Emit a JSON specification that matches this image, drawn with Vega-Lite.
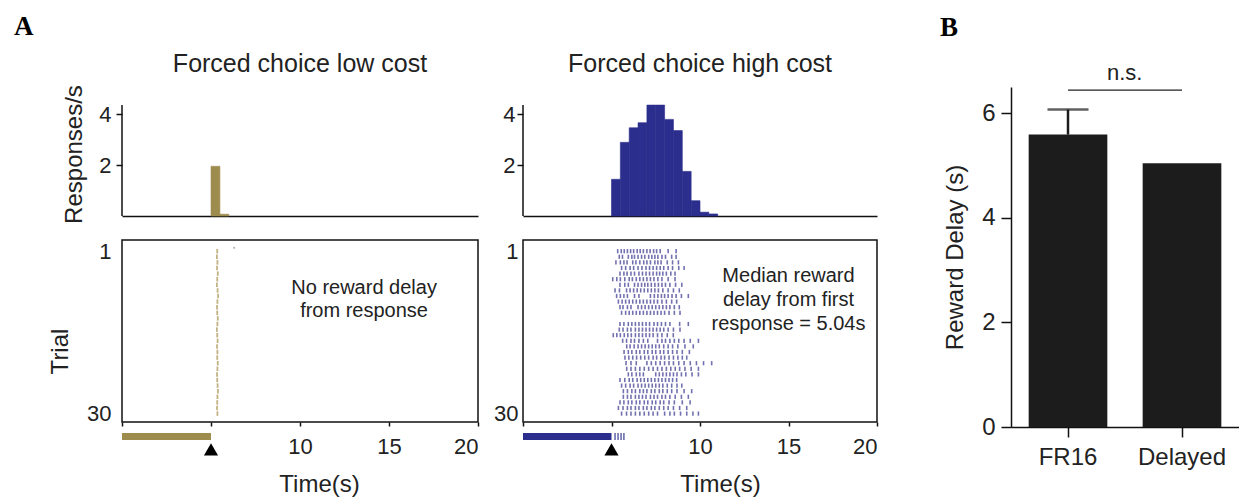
{
  "$schema": "https://vega.github.io/schema/vega-lite/v6.json",
  "padding": {"left": 14, "top": 12, "right": 0, "bottom": 0},
  "spacing": 61,
  "config": {
    "font": "Liberation Sans",
    "view": {"stroke": null},
    "axis": {"grid": false, "domainColor": "#111", "domainWidth": 1.5, "tickColor": "#111", "tickWidth": 1.5, "labelColor": "#222", "titleColor": "#222", "labelFontSize": 22, "titleFontSize": 24, "titleFontWeight": "normal", "labelFont": "Liberation Sans", "titleFont": "Liberation Sans"},
    "title": {"fontWeight": "normal", "color": "#222", "fontSize": 25}
  },
  "datasets": {
    "one": [{}],
    "histLow": [
      {"t0": 5.0, "t1": 5.5, "rate": 1.95},
      {"t0": 5.5, "t1": 6.0, "rate": 0.07}
    ],
    "histHigh": [
      {"t0": 5.0, "t1": 5.5, "rate": 1.44},
      {"t0": 5.5, "t1": 6.0, "rate": 2.89},
      {"t0": 6.0, "t1": 6.5, "rate": 3.46},
      {"t0": 6.5, "t1": 7.0, "rate": 3.66},
      {"t0": 7.0, "t1": 7.5, "rate": 4.35},
      {"t0": 7.5, "t1": 8.0, "rate": 4.35},
      {"t0": 8.0, "t1": 8.5, "rate": 3.79},
      {"t0": 8.5, "t1": 9.0, "rate": 3.35},
      {"t0": 9.0, "t1": 9.5, "rate": 1.75},
      {"t0": 9.5, "t1": 10.0, "rate": 0.6},
      {"t0": 10.0, "t1": 10.5, "rate": 0.15},
      {"t0": 10.5, "t1": 11.0, "rate": 0.08}
    ],
    "rasterLow": [
      {"r": 1, "t": 5.35}, {"r": 2, "t": 5.33}, {"r": 3, "t": 5.36}, {"r": 4, "t": 5.34}, {"r": 5, "t": 5.38},
      {"r": 6, "t": 5.35}, {"r": 7, "t": 5.33}, {"r": 8, "t": 5.37}, {"r": 9, "t": 5.4}, {"r": 10, "t": 5.36},
      {"r": 11, "t": 5.34}, {"r": 12, "t": 5.35}, {"r": 13, "t": 5.38}, {"r": 14, "t": 5.36}, {"r": 15, "t": 5.33},
      {"r": 16, "t": 5.35}, {"r": 17, "t": 5.37}, {"r": 18, "t": 5.34}, {"r": 19, "t": 5.36}, {"r": 20, "t": 5.35},
      {"r": 21, "t": 5.38}, {"r": 22, "t": 5.36}, {"r": 23, "t": 5.34}, {"r": 24, "t": 5.35}, {"r": 25, "t": 5.37},
      {"r": 26, "t": 5.39}, {"r": 27, "t": 5.36}, {"r": 28, "t": 5.35}, {"r": 29, "t": 5.34}, {"r": 30, "t": 5.36}
    ],
    "rasterHigh": [
      {"r":1,"t":5.35},{"r":1,"t":5.55},{"r":1,"t":5.72},{"r":1,"t":5.9},{"r":1,"t":6.08},{"r":1,"t":6.25},{"r":1,"t":6.45},{"r":1,"t":6.62},{"r":1,"t":6.8},{"r":1,"t":7.0},{"r":1,"t":7.18},{"r":1,"t":7.38},{"r":1,"t":7.55},{"r":1,"t":7.75},{"r":1,"t":8.2},{"r":1,"t":8.65},
      {"r":2,"t":5.44},{"r":2,"t":5.62},{"r":2,"t":5.95},{"r":2,"t":6.15},{"r":2,"t":6.3},{"r":2,"t":6.5},{"r":2,"t":6.7},{"r":2,"t":6.88},{"r":2,"t":7.1},{"r":2,"t":7.28},{"r":2,"t":7.45},{"r":2,"t":7.62},{"r":2,"t":7.85},{"r":2,"t":8.05},{"r":2,"t":8.4},{"r":2,"t":8.65},
      {"r":3,"t":5.25},{"r":3,"t":5.5},{"r":3,"t":5.7},{"r":3,"t":5.88},{"r":3,"t":6.2},{"r":3,"t":6.38},{"r":3,"t":6.6},{"r":3,"t":6.82},{"r":3,"t":7.0},{"r":3,"t":7.2},{"r":3,"t":7.45},{"r":3,"t":7.62},{"r":3,"t":7.8},{"r":3,"t":8.15},{"r":3,"t":8.45},{"r":3,"t":8.78},
      {"r":4,"t":5.57},{"r":4,"t":5.8},{"r":4,"t":6.05},{"r":4,"t":6.25},{"r":4,"t":6.5},{"r":4,"t":6.72},{"r":4,"t":6.95},{"r":4,"t":7.15},{"r":4,"t":7.35},{"r":4,"t":7.55},{"r":4,"t":7.75},{"r":4,"t":7.95},{"r":4,"t":8.2},{"r":4,"t":8.45},{"r":4,"t":8.8},{"r":4,"t":9.1},
      {"r":5,"t":5.48},{"r":5,"t":5.7},{"r":5,"t":5.88},{"r":5,"t":6.1},{"r":5,"t":6.3},{"r":5,"t":6.55},{"r":5,"t":6.75},{"r":5,"t":6.95},{"r":5,"t":7.15},{"r":5,"t":7.35},{"r":5,"t":7.55},{"r":5,"t":7.72},{"r":5,"t":7.9},{"r":5,"t":8.1},{"r":5,"t":8.35},{"r":5,"t":8.59},
      {"r":6,"t":5.07},{"r":6,"t":5.3},{"r":6,"t":5.5},{"r":6,"t":5.75},{"r":6,"t":6.0},{"r":6,"t":6.18},{"r":6,"t":6.4},{"r":6,"t":6.6},{"r":6,"t":6.8},{"r":6,"t":7.0},{"r":6,"t":7.2},{"r":6,"t":7.4},{"r":6,"t":7.62},{"r":6,"t":7.85},{"r":6,"t":8.2},{"r":6,"t":8.59},
      {"r":7,"t":5.48},{"r":7,"t":5.75},{"r":7,"t":5.95},{"r":7,"t":6.3},{"r":7,"t":6.5},{"r":7,"t":6.7},{"r":7,"t":6.88},{"r":7,"t":7.05},{"r":7,"t":7.25},{"r":7,"t":7.45},{"r":7,"t":7.65},{"r":7,"t":7.85},{"r":7,"t":8.05},{"r":7,"t":8.3},{"r":7,"t":8.62},{"r":7,"t":8.97},
      {"r":8,"t":5.2},{"r":8,"t":5.45},{"r":8,"t":5.85},{"r":8,"t":6.05},{"r":8,"t":6.25},{"r":8,"t":6.45},{"r":8,"t":6.65},{"r":8,"t":6.85},{"r":8,"t":7.05},{"r":8,"t":7.25},{"r":8,"t":7.45},{"r":8,"t":7.65},{"r":8,"t":7.9},{"r":8,"t":8.2},{"r":8,"t":8.5},{"r":8,"t":8.83},
      {"r":9,"t":5.29},{"r":9,"t":5.5},{"r":9,"t":5.7},{"r":9,"t":5.9},{"r":9,"t":6.3},{"r":9,"t":6.55},{"r":9,"t":7.2},{"r":9,"t":7.42},{"r":9,"t":7.62},{"r":9,"t":7.82},{"r":9,"t":8.0},{"r":9,"t":8.2},{"r":9,"t":8.42},{"r":9,"t":8.65},{"r":9,"t":8.95},{"r":9,"t":9.34},
      {"r":10,"t":5.39},{"r":10,"t":5.6},{"r":10,"t":5.8},{"r":10,"t":6.0},{"r":10,"t":6.2},{"r":10,"t":6.4},{"r":10,"t":6.6},{"r":10,"t":6.8},{"r":10,"t":7.0},{"r":10,"t":7.2},{"r":10,"t":7.4},{"r":10,"t":7.6},{"r":10,"t":7.85},{"r":10,"t":8.1},{"r":10,"t":8.4},{"r":10,"t":8.68},
      {"r":11,"t":5.48},{"r":11,"t":5.65},{"r":11,"t":5.9},{"r":11,"t":6.1},{"r":11,"t":6.5},{"r":11,"t":6.7},{"r":11,"t":6.9},{"r":11,"t":7.1},{"r":11,"t":7.3},{"r":11,"t":7.5},{"r":11,"t":7.7},{"r":11,"t":7.9},{"r":11,"t":8.1},{"r":11,"t":8.3},{"r":11,"t":8.55},{"r":11,"t":8.83},
      {"r":12,"t":5.57},{"r":12,"t":5.8},{"r":12,"t":6.0},{"r":12,"t":6.2},{"r":12,"t":6.4},{"r":12,"t":6.6},{"r":12,"t":6.8},{"r":12,"t":7.0},{"r":12,"t":7.2},{"r":12,"t":7.4},{"r":12,"t":7.6},{"r":12,"t":7.8},{"r":12,"t":8.0},{"r":12,"t":8.25},{"r":12,"t":8.55},{"r":12,"t":8.87},
      {"r":14,"t":5.48},{"r":14,"t":5.7},{"r":14,"t":5.95},{"r":14,"t":6.15},{"r":14,"t":6.35},{"r":14,"t":6.55},{"r":14,"t":6.75},{"r":14,"t":6.95},{"r":14,"t":7.15},{"r":14,"t":7.4},{"r":14,"t":7.6},{"r":14,"t":7.82},{"r":14,"t":8.05},{"r":14,"t":8.3},{"r":14,"t":8.85},{"r":14,"t":9.34},
      {"r":15,"t":5.44},{"r":15,"t":5.65},{"r":15,"t":5.9},{"r":15,"t":6.1},{"r":15,"t":6.35},{"r":15,"t":6.55},{"r":15,"t":6.75},{"r":15,"t":6.95},{"r":15,"t":7.15},{"r":15,"t":7.35},{"r":15,"t":7.55},{"r":15,"t":7.75},{"r":15,"t":7.95},{"r":15,"t":8.2},{"r":15,"t":8.5},{"r":15,"t":8.87},
      {"r":16,"t":5.1},{"r":16,"t":5.3},{"r":16,"t":5.5},{"r":16,"t":5.72},{"r":16,"t":5.92},{"r":16,"t":6.12},{"r":16,"t":6.35},{"r":16,"t":6.55},{"r":16,"t":6.75},{"r":16,"t":6.95},{"r":16,"t":7.15},{"r":16,"t":7.35},{"r":16,"t":7.6},{"r":16,"t":7.85},{"r":16,"t":8.15},{"r":16,"t":8.49},
      {"r":17,"t":5.63},{"r":17,"t":5.85},{"r":17,"t":6.1},{"r":17,"t":6.3},{"r":17,"t":6.55},{"r":17,"t":6.8},{"r":17,"t":7.05},{"r":17,"t":7.6},{"r":17,"t":7.85},{"r":17,"t":8.05},{"r":17,"t":8.3},{"r":17,"t":8.55},{"r":17,"t":8.8},{"r":17,"t":9.1},{"r":17,"t":9.45},{"r":17,"t":9.91},
      {"r":18,"t":5.86},{"r":18,"t":6.05},{"r":18,"t":6.28},{"r":18,"t":6.5},{"r":18,"t":6.7},{"r":18,"t":6.9},{"r":18,"t":7.1},{"r":18,"t":7.3},{"r":18,"t":7.5},{"r":18,"t":7.7},{"r":18,"t":7.95},{"r":18,"t":8.2},{"r":18,"t":8.45},{"r":18,"t":8.75},{"r":18,"t":9.15},{"r":18,"t":9.62},
      {"r":19,"t":5.71},{"r":19,"t":5.95},{"r":19,"t":6.15},{"r":19,"t":6.4},{"r":19,"t":6.6},{"r":19,"t":6.85},{"r":19,"t":7.05},{"r":19,"t":7.3},{"r":19,"t":7.5},{"r":19,"t":7.75},{"r":19,"t":7.95},{"r":19,"t":8.2},{"r":19,"t":8.45},{"r":19,"t":8.7},{"r":19,"t":9.0},{"r":19,"t":9.4},
      {"r":20,"t":5.76},{"r":20,"t":5.98},{"r":20,"t":6.2},{"r":20,"t":6.42},{"r":20,"t":6.65},{"r":20,"t":6.88},{"r":20,"t":7.1},{"r":20,"t":7.35},{"r":20,"t":7.55},{"r":20,"t":7.8},{"r":20,"t":8.0},{"r":20,"t":8.25},{"r":20,"t":8.5},{"r":20,"t":8.75},{"r":20,"t":9.0},{"r":20,"t":9.25},
      {"r":21,"t":5.82},{"r":21,"t":6.1},{"r":21,"t":6.4},{"r":21,"t":7.0},{"r":21,"t":7.25},{"r":21,"t":7.5},{"r":21,"t":7.75},{"r":21,"t":8.0},{"r":21,"t":8.25},{"r":21,"t":8.5},{"r":21,"t":8.8},{"r":21,"t":9.1},{"r":21,"t":9.45},{"r":21,"t":9.8},{"r":21,"t":10.2},{"r":21,"t":10.66},
      {"r":22,"t":5.86},{"r":22,"t":6.1},{"r":22,"t":6.35},{"r":22,"t":6.6},{"r":22,"t":6.85},{"r":22,"t":7.1},{"r":22,"t":7.35},{"r":22,"t":7.6},{"r":22,"t":7.85},{"r":22,"t":8.1},{"r":22,"t":8.35},{"r":22,"t":8.6},{"r":22,"t":8.85},{"r":22,"t":9.15},{"r":22,"t":9.5},{"r":22,"t":9.91},
      {"r":23,"t":5.95},{"r":23,"t":6.15},{"r":23,"t":6.4},{"r":23,"t":6.6},{"r":23,"t":6.8},{"r":23,"t":7.5},{"r":23,"t":7.7},{"r":23,"t":7.9},{"r":23,"t":8.1},{"r":23,"t":8.3},{"r":23,"t":8.5},{"r":23,"t":8.7},{"r":23,"t":8.95},{"r":23,"t":9.2},{"r":23,"t":9.55},{"r":23,"t":9.91},
      {"r":24,"t":5.48},{"r":24,"t":5.75},{"r":24,"t":6.0},{"r":24,"t":6.2},{"r":24,"t":6.45},{"r":24,"t":6.65},{"r":24,"t":6.85},{"r":24,"t":7.05},{"r":24,"t":7.25},{"r":24,"t":7.45},{"r":24,"t":7.65},{"r":24,"t":7.85},{"r":24,"t":8.05},{"r":24,"t":8.25},{"r":24,"t":8.45},{"r":24,"t":8.68},
      {"r":25,"t":5.57},{"r":25,"t":5.8},{"r":25,"t":6.05},{"r":25,"t":6.25},{"r":25,"t":6.5},{"r":25,"t":6.7},{"r":25,"t":6.9},{"r":25,"t":7.1},{"r":25,"t":7.3},{"r":25,"t":7.5},{"r":25,"t":7.7},{"r":25,"t":7.9},{"r":25,"t":8.15},{"r":25,"t":8.4},{"r":25,"t":8.7},{"r":25,"t":8.97},
      {"r":26,"t":5.67},{"r":26,"t":5.9},{"r":26,"t":6.15},{"r":26,"t":6.35},{"r":26,"t":6.6},{"r":26,"t":6.8},{"r":26,"t":7.0},{"r":26,"t":7.25},{"r":26,"t":7.45},{"r":26,"t":7.7},{"r":26,"t":7.9},{"r":26,"t":8.15},{"r":26,"t":8.4},{"r":26,"t":8.7},{"r":26,"t":9.1},{"r":26,"t":9.53},
      {"r":27,"t":5.67},{"r":27,"t":5.9},{"r":27,"t":6.1},{"r":27,"t":6.35},{"r":27,"t":6.55},{"r":27,"t":6.75},{"r":27,"t":6.95},{"r":27,"t":7.2},{"r":27,"t":7.4},{"r":27,"t":7.6},{"r":27,"t":7.85},{"r":27,"t":8.05},{"r":27,"t":8.3},{"r":27,"t":8.6},{"r":27,"t":8.95},{"r":27,"t":9.34},
      {"r":28,"t":5.48},{"r":28,"t":5.7},{"r":28,"t":5.95},{"r":28,"t":6.15},{"r":28,"t":6.4},{"r":28,"t":6.6},{"r":28,"t":6.85},{"r":28,"t":7.05},{"r":28,"t":7.3},{"r":28,"t":7.5},{"r":28,"t":7.75},{"r":28,"t":7.95},{"r":28,"t":8.25},{"r":28,"t":8.55},{"r":28,"t":9.0},{"r":28,"t":9.44},
      {"r":29,"t":5.39},{"r":29,"t":5.65},{"r":29,"t":5.9},{"r":29,"t":6.1},{"r":29,"t":6.35},{"r":29,"t":6.55},{"r":29,"t":6.8},{"r":29,"t":7.0},{"r":29,"t":7.25},{"r":29,"t":7.45},{"r":29,"t":7.7},{"r":29,"t":7.95},{"r":29,"t":8.2},{"r":29,"t":8.5},{"r":29,"t":8.85},{"r":29,"t":9.25},
      {"r":30,"t":5.57},{"r":30,"t":5.85},{"r":30,"t":6.1},{"r":30,"t":6.35},{"r":30,"t":6.6},{"r":30,"t":6.85},{"r":30,"t":7.1},{"r":30,"t":7.35},{"r":30,"t":7.6},{"r":30,"t":8.0},{"r":30,"t":8.3},{"r":30,"t":8.55},{"r":30,"t":8.9},{"r":30,"t":9.25},{"r":30,"t":9.6},{"r":30,"t":9.91}
    ],
    "barsB": [
      {"cond": "FR16", "delay": 5.59},
      {"cond": "Delayed", "delay": 5.04}
    ],
    "errB": [
      {"cond": "FR16", "delay": 5.59, "upper": 6.07}
    ]
  },
  "hconcat": [
    {
      "spacing": 12,
      "hconcat": [
        {
          "title": {"text": "A", "anchor": "start", "frame": "group", "dx": -108, "offset": -10, "baseline": "alphabetic", "font": "Liberation Serif", "fontSize": 27, "fontWeight": "bold", "color": "#000"},
          "bounds": "flush",
          "spacing": 24,
          "vconcat": [
            {
              "width": 356, "height": 129,
              "title": {"text": "Forced choice low cost", "anchor": "middle", "frame": "group", "offset": -12, "baseline": "alphabetic"},
              "layer": [
                {
                  "data": {"name": "histLow"},
                  "mark": {"type": "rect", "color": "#9e8c4f", "stroke": "#9e8c4f", "strokeWidth": 0.6},
                  "encoding": {
                    "x": {"field": "t0", "type": "quantitative", "scale": {"domain": [0, 20], "nice": false}, "axis": {"labels": false, "ticks": false, "title": null, "domain": true}},
                    "x2": {"field": "t1"},
                    "y": {"field": "rate", "type": "quantitative", "scale": {"domain": [0, 5.06], "nice": false}, "axis": {"values": [2, 4], "domain": false, "tickSize": 6, "labelPadding": 5, "title": "Responses/s", "titleY": 67, "titlePadding": 12}},
                    "y2": {"datum": 0}
                  }
                },
                {
                  "data": {"name": "one"},
                  "mark": {"type": "rule", "color": "#111", "strokeWidth": 1.5},
                  "encoding": {"x": {"datum": 0}, "y": {"datum": 0}, "y2": {"datum": 4.35}}
                }
              ]
            },
            {
              "width": 356, "height": 182,
              "view": {"stroke": "#111", "strokeWidth": 1.5},
              "layer": [
                {
                  "data": {"name": "rasterLow"},
                  "mark": {"type": "tick", "orient": "vertical", "size": 4.5, "thickness": 1.8, "color": "#a8924f"},
                  "encoding": {
                    "x": {"field": "t", "type": "quantitative", "scale": {"domain": [0, 20], "nice": false}, "axis": {"values": [0, 5, 10, 15, 20], "domain": false, "tickSize": 4, "labelPadding": 10, "labelExpr": "datum.value >= 10 ? datum.label : ''", "title": "Time(s)", "titleX": 197, "titlePadding": 15}},
                    "y": {"field": "r", "type": "quantitative", "scale": {"domain": [-1, 31.5], "nice": false, "reverse": true}, "axis": {"values": [1, 30], "ticks": false, "domain": false, "labelPadding": 11, "title": "Trial", "titleY": 111, "titlePadding": 14}}
                  }
                },
                {
                  "data": {"name": "one"},
                  "mark": {"type": "point", "filled": true, "size": 5, "color": "#999"},
                  "encoding": {"x": {"datum": 6.3}, "y": {"datum": 0.4}}
                },
                {
                  "data": {"name": "one"},
                  "mark": {"type": "text", "fontSize": 20, "color": "#222", "lineHeight": 23, "align": "center", "baseline": "middle"},
                  "encoding": {"x": {"datum": 13.6}, "y": {"datum": 7.6}, "text": {"value": ["No reward delay", "from response"]}}
                },
                {
                  "data": {"name": "one"},
                  "mark": {"type": "rule", "color": "#9e8c4f", "strokeWidth": 7},
                  "encoding": {"x": {"datum": 0}, "x2": {"datum": 5}, "y": {"datum": 34.1}}
                },
                {
                  "data": {"name": "one"},
                  "mark": {"type": "point", "shape": "triangle-up", "filled": true, "size": 200, "color": "#000", "opacity": 1},
                  "encoding": {"x": {"datum": 5}, "y": {"datum": 36.4}}
                }
              ]
            }
          ]
        },
        {
          "bounds": "flush",
          "spacing": 24,
          "vconcat": [
            {
              "width": 354, "height": 129,
              "title": {"text": "Forced choice high cost", "anchor": "middle", "frame": "group", "offset": -10, "baseline": "alphabetic"},
              "layer": [
                {
                  "data": {"name": "histHigh"},
                  "mark": {"type": "rect", "color": "#2b2e8c", "stroke": "#2b2e8c", "strokeWidth": 0.6},
                  "encoding": {
                    "x": {"field": "t0", "type": "quantitative", "scale": {"domain": [0, 20], "nice": false}, "axis": {"labels": false, "ticks": false, "title": null, "domain": true}},
                    "x2": {"field": "t1"},
                    "y": {"field": "rate", "type": "quantitative", "scale": {"domain": [0, 5.06], "nice": false}, "axis": {"values": [2, 4], "domain": false, "tickSize": 6, "labelPadding": 2, "title": null}},
                    "y2": {"datum": 0}
                  }
                },
                {
                  "data": {"name": "one"},
                  "mark": {"type": "rule", "color": "#111", "strokeWidth": 1.5},
                  "encoding": {"x": {"datum": 0}, "y": {"datum": 0}, "y2": {"datum": 4.35}}
                }
              ]
            },
            {
              "width": 354, "height": 182,
              "view": {"stroke": "#111", "strokeWidth": 1.5},
              "layer": [
                {
                  "data": {"name": "rasterHigh"},
                  "mark": {"type": "tick", "orient": "vertical", "size": 4.2, "thickness": 1.6, "color": "#34358f"},
                  "encoding": {
                    "x": {"field": "t", "type": "quantitative", "scale": {"domain": [0, 20], "nice": false}, "axis": {"values": [0, 5, 10, 15, 20], "domain": false, "tickSize": 4, "labelPadding": 10, "labelExpr": "datum.value >= 10 ? datum.label : ''", "title": "Time(s)", "titleX": 197, "titlePadding": 15}},
                    "y": {"field": "r", "type": "quantitative", "scale": {"domain": [-1, 31.5], "nice": false, "reverse": true}, "axis": {"values": [1, 30], "ticks": false, "domain": false, "labelPadding": 5, "title": null}}
                  }
                },
                {
                  "data": {"name": "one"},
                  "mark": {"type": "text", "fontSize": 20, "color": "#222", "lineHeight": 24, "align": "center", "baseline": "middle"},
                  "encoding": {"x": {"datum": 15.0}, "y": {"datum": 5.4}, "text": {"value": ["Median reward", "delay from first", "response = 5.04s"]}}
                },
                {
                  "data": {"name": "one"},
                  "mark": {"type": "rule", "color": "#2b2e8c", "strokeWidth": 7},
                  "encoding": {"x": {"datum": 0}, "x2": {"datum": 5}, "y": {"datum": 34.1}}
                },
                {
                  "data": {"values": [{"t": 5.2}, {"t": 5.37}, {"t": 5.54}, {"t": 5.7}]},
                  "mark": {"type": "tick", "orient": "vertical", "size": 7, "thickness": 1.6, "color": "#2b2e8c"},
                  "encoding": {"x": {"field": "t", "type": "quantitative"}, "y": {"datum": 34.1}}
                },
                {
                  "data": {"name": "one"},
                  "mark": {"type": "point", "shape": "triangle-up", "filled": true, "size": 200, "color": "#000", "opacity": 1},
                  "encoding": {"x": {"datum": 5}, "y": {"datum": 36.4}}
                }
              ]
            }
          ]
        }
      ]
    },
    {
      "width": 228, "height": 340,
      "title": {"text": "B", "anchor": "start", "frame": "group", "dx": -71, "offset": -1, "baseline": "alphabetic", "font": "Liberation Serif", "fontSize": 27, "fontWeight": "bold", "color": "#000"},
      "layer": [
        {
          "data": {"name": "barsB"},
          "mark": {"type": "bar", "color": "#1c1c1c"},
          "encoding": {
            "x": {"field": "cond", "type": "nominal", "sort": ["FR16", "Delayed"], "scale": {"paddingInner": 0.31, "paddingOuter": 0.155}, "axis": {"labelAngle": 0, "tickSize": 10, "labelPadding": 8, "title": null, "labelFontSize": 24}},
            "y": {"field": "delay", "type": "quantitative", "scale": {"domain": [0, 6.5], "nice": false}, "axis": {"values": [0, 2, 4, 6], "tickSize": 10, "labelPadding": 6, "title": "Reward Delay (s)", "titlePadding": 14, "labelFontSize": 24}}
          }
        },
        {
          "data": {"name": "errB"},
          "mark": {"type": "rule", "color": "#1c1c1c", "strokeWidth": 2.5},
          "encoding": {"x": {"field": "cond", "type": "nominal", "sort": ["FR16", "Delayed"]}, "y": {"field": "delay", "type": "quantitative"}, "y2": {"field": "upper"}}
        },
        {
          "data": {"name": "errB"},
          "mark": {"type": "tick", "orient": "horizontal", "size": 41, "thickness": 2.5, "color": "#1c1c1c"},
          "encoding": {"x": {"field": "cond", "type": "nominal", "sort": ["FR16", "Delayed"]}, "y": {"field": "upper", "type": "quantitative"}}
        },
        {
          "data": {"name": "one"},
          "mark": {"type": "rule", "color": "#222", "strokeWidth": 1.3},
          "encoding": {"x": {"datum": "FR16"}, "x2": {"datum": "Delayed"}, "y": {"datum": 6.44}}
        },
        {
          "data": {"name": "one"},
          "mark": {"type": "text", "fontSize": 22, "color": "#222", "align": "center", "baseline": "middle"},
          "encoding": {"x": {"datum": "FR16", "bandPosition": 1.22}, "y": {"datum": 6.77}, "text": {"value": "n.s."}}
        }
      ]
    }
  ]
}
